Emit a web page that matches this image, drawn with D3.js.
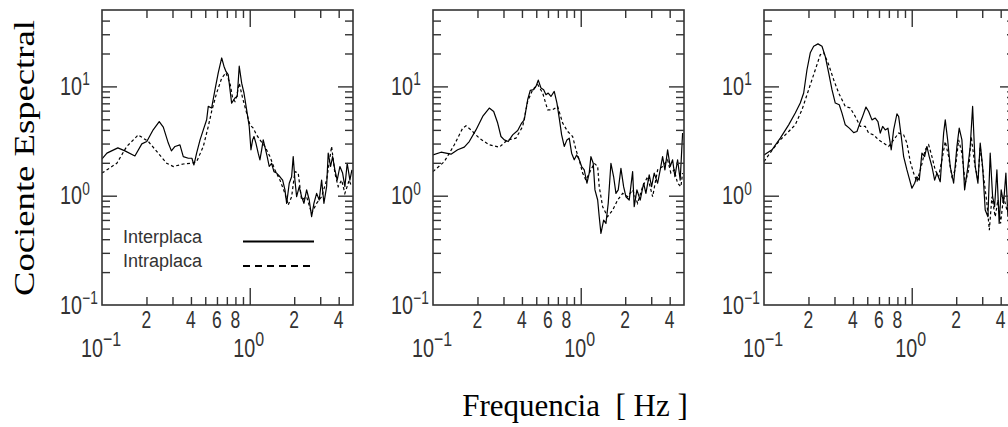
<!DOCTYPE html>
<html><head><meta charset="utf-8">
<script src="https://cdn.jsdelivr.net/npm/d3@7/dist/d3.min.js"></script>
<style>
body{margin:0;background:#fff}
svg{display:block}
.tick-lbl{font-family:'Liberation Sans',Arial,sans-serif;fill:#333}
.title{font-family:'Liberation Serif','Times New Roman',serif;fill:#000}
.leg{font-family:'Liberation Sans',Arial,sans-serif;fill:#333}
</style>
</head><body>
<svg id="chart" width="1008" height="427"></svg>
<script>
// ---------------- data (frequency Hz, spectral ratio) ----------------
const p1Interplaca = [[0.100,2.17],[0.108,2.45],[0.128,2.74],[0.143,2.57],[0.167,2.31],[0.186,2.98],[0.201,3.13],[0.222,4.01],[0.244,4.77],[0.260,4.24],[0.281,3.03],[0.295,2.57],[0.312,2.82],[0.337,2.92],[0.355,2.28],[0.384,2.20],[0.406,2.20],[0.419,1.91],[0.437,2.45],[0.461,3.24],[0.485,4.00],[0.511,4.95],[0.524,6.56],[0.552,6.34],[0.582,9.33],[0.612,13.3],[0.646,18.2],[0.669,15.3],[0.690,13.7],[0.715,12.8],[0.754,7.04],[0.794,7.83],[0.823,8.09],[0.849,15.3],[0.882,10.7],[0.914,8.70],[0.953,6.11],[0.992,4.30],[1.019,2.63],[1.046,3.24],[1.068,3.48],[1.101,3.03],[1.141,2.45],[1.172,2.13],[1.204,2.63],[1.234,3.24],[1.281,2.63],[1.313,2.28],[1.355,1.85],[1.406,1.98],[1.458,1.66],[1.520,1.61],[1.601,1.49],[1.670,1.39],[1.731,1.13],[1.778,0.852],[1.851,1.30],[1.921,1.49],[1.969,2.28],[2.022,1.39],[2.077,0.979],[2.163,1.21],[2.244,0.98],[2.327,0.852],[2.427,1.13],[2.527,0.913],[2.623,0.642],[2.719,0.852],[2.836,1.05],[2.953,0.913],[3.066,1.39],[3.177,0.852],[3.314,1.21],[3.397,2.45],[3.527,1.85],[3.638,2.28],[3.771,1.72],[3.908,1.39],[4.076,1.85],[4.252,1.61],[4.407,1.21],[4.568,1.98],[4.764,1.39],[4.915,1.72]];
const p1Intraplaca = [[0.100,1.61],[0.126,1.98],[0.147,2.82],[0.176,3.60],[0.206,3.13],[0.240,2.45],[0.274,1.98],[0.304,1.85],[0.355,1.95],[0.405,1.98],[0.437,2.05],[0.485,2.82],[0.524,4.30],[0.552,5.90],[0.597,8.70],[0.646,11.9],[0.690,13.3],[0.735,10.7],[0.766,7.83],[0.794,7.28],[0.815,8.09],[0.849,10.7],[0.895,7.83],[0.953,5.70],[1.003,4.45],[1.056,4.15],[1.113,3.60],[1.172,3.24],[1.267,2.82],[1.370,2.28],[1.481,1.72],[1.601,1.39],[1.731,1.05],[1.822,0.822],[1.921,0.979],[2.022,1.66],[2.129,1.61],[2.244,0.913],[2.427,0.979],[2.623,0.69],[2.836,0.852],[3.066,0.979],[3.314,1.39],[3.582,2.82],[3.771,1.61],[3.970,1.21],[4.186,1.39],[4.407,1.05],[4.712,1.39],[4.890,1.21]];
const p2Interplaca = [[0.100,2.36],[0.1133,2.50],[0.1324,2.40],[0.1469,2.63],[0.1628,2.78],[0.1760,3.13],[0.1954,4.00],[0.2169,5.31],[0.2404,6.34],[0.2575,5.90],[0.2740,4.62],[0.2885,3.48],[0.3037,3.24],[0.3232,3.13],[0.3462,3.60],[0.3743,3.95],[0.3982,4.62],[0.4146,4.94],[0.4372,7.55],[0.4553,9.19],[0.4801,9.33],[0.4977,10.0],[0.5159,11.4],[0.5380,9.67],[0.5610,9.33],[0.5815,8.39],[0.6026,8.70],[0.6286,8.09],[0.6617,9.00],[0.6902,7.04],[0.7153,5.13],[0.7426,3.60],[0.7733,2.82],[0.8064,3.24],[0.8359,3.36],[0.8677,2.45],[0.9036,2.13],[0.9382,2.36],[0.9770,2.13],[1.014,1.85],[1.056,1.72],[1.101,1.30],[1.141,1.61],[1.172,2.28],[1.215,1.98],[1.248,1.13],[1.302,0.913],[1.334,0.642],[1.370,0.452],[1.429,0.598],[1.481,0.558],[1.535,0.852],[1.601,1.98],[1.670,1.49],[1.731,1.05],[1.794,1.13],[1.871,1.78],[1.951,1.21],[2.022,0.979],[2.129,0.913],[2.245,1.66],[2.301,0.793],[2.400,1.13],[2.527,0.913],[2.665,1.30],[2.761,1.05],[2.907,1.55],[3.018,1.21],[3.143,1.61],[3.314,1.30],[3.451,1.72],[3.582,2.28],[3.713,1.72],[3.873,2.63],[4.031,1.85],[4.186,2.13],[4.338,1.49],[4.525,2.13],[4.712,1.39],[4.892,3.74]];
const p2Intraplaca = [[0.100,1.66],[0.1192,2.05],[0.1394,2.92],[0.1588,4.15],[0.1672,4.36],[0.1808,4.00],[0.2057,3.36],[0.2404,2.92],[0.2809,2.78],[0.3202,3.24],[0.3644,3.36],[0.4046,4.30],[0.4372,7.28],[0.4728,9.33],[0.5110,10.4],[0.5524,8.70],[0.5970,6.11],[0.6455,6.11],[0.6980,6.56],[0.7543,4.62],[0.8154,3.87],[0.8815,3.48],[0.9279,2.63],[0.9770,2.13],[1.030,1.61],[1.084,1.39],[1.172,1.72],[1.234,1.98],[1.302,1.85],[1.334,1.21],[1.407,0.793],[1.520,0.642],[1.644,0.739],[1.778,0.913],[1.921,1.05],[2.077,0.979],[2.245,1.13],[2.427,0.852],[2.623,1.21],[2.836,1.49],[3.066,0.979],[3.314,1.72],[3.582,1.85],[3.873,2.13],[4.076,1.61],[4.292,1.72],[4.525,1.30],[4.764,1.21],[4.892,1.61]];
const p3Interplaca = [[0.100,2.36],[0.1133,2.63],[0.1289,3.36],[0.1469,4.45],[0.1628,5.70],[0.1760,7.04],[0.1856,8.70],[0.1954,14.2],[0.2057,20.3],[0.2169,23.3],[0.2319,24.5],[0.2469,23.3],[0.2598,18.8],[0.2740,13.3],[0.2885,9.33],[0.3037,7.04],[0.3232,6.79],[0.3372,5.70],[0.3549,4.45],[0.3778,4.15],[0.4046,3.78],[0.4258,3.87],[0.4414,4.45],[0.4605,5.13],[0.4900,6.47],[0.5110,5.90],[0.5380,4.94],[0.5664,5.13],[0.5906,4.77],[0.6123,3.74],[0.6355,4.30],[0.6617,4.00],[0.6902,4.15],[0.7265,2.63],[0.7543,4.00],[0.7941,5.62],[0.8154,5.31],[0.8492,3.48],[0.8815,2.28],[0.9279,1.72],[0.9618,1.44],[1.003,1.17],[1.046,1.30],[1.084,1.49],[1.124,1.39],[1.172,2.45],[1.222,2.28],[1.267,2.82],[1.313,2.28],[1.370,1.85],[1.429,1.39],[1.481,1.61],[1.559,1.34],[1.644,3.74],[1.686,4.94],[1.750,3.24],[1.822,1.85],[1.921,1.30],[2.022,2.82],[2.096,4.15],[2.186,3.24],[2.280,1.13],[2.400,1.85],[2.488,2.82],[2.583,6.56],[2.690,1.85],[2.805,1.30],[2.907,3.03],[3.018,1.85],[3.143,0.739],[3.278,0.642],[3.397,2.45],[3.527,0.979],[3.638,0.793],[3.771,1.72],[3.908,0.558],[4.031,1.13],[4.186,0.852],[4.338,1.61],[4.476,0.642]];
const p3Intraplaca = [[0.100,2.05],[0.1076,2.36],[0.1257,3.13],[0.1469,3.87],[0.1628,4.45],[0.1808,6.11],[0.2006,9.33],[0.2224,14.2],[0.2404,19.5],[0.2535,20.3],[0.2740,15.8],[0.2963,11.5],[0.3202,8.70],[0.3549,6.56],[0.3836,6.34],[0.4146,5.31],[0.4483,4.30],[0.4848,4.30],[0.5110,3.74],[0.5524,3.60],[0.5970,3.24],[0.6455,3.03],[0.6980,2.82],[0.7543,3.24],[0.8154,3.74],[0.8815,3.60],[0.9279,3.03],[0.9770,2.05],[1.030,1.61],[1.084,1.34],[1.160,1.85],[1.234,2.63],[1.302,2.92],[1.370,2.28],[1.442,1.72],[1.520,1.49],[1.601,2.13],[1.686,3.13],[1.778,2.28],[1.871,1.49],[1.969,1.72],[2.077,3.24],[2.186,2.45],[2.301,1.30],[2.427,1.72],[2.527,3.48],[2.665,1.98],[2.805,1.39],[2.907,2.82],[3.066,1.49],[3.227,0.852],[3.352,0.484],[3.488,0.979],[3.675,0.642],[3.830,0.913],[3.990,0.558],[4.186,0.979],[4.407,0.739]];

const seriesNames = ["Interplaca", "Intraplaca"];
const xDomain = [0.1, 5];
const yDomain = [0.1, 50];
const xMinorTicks = [0.2,0.3,0.4,0.5,0.6,0.7,0.8,0.9,2,3,4];
const xMajorTicks = [1];
const yMinorTicks = [0.2,0.3,0.4,0.5,0.6,0.7,0.8,0.9,2,3,4,5,6,7,8,9,20,30,40];
const yMajorTicks = [1,10];
const xDigitTicks = [0.2,0.4,0.6,0.8,2,4];
const xDigitLabels = ["2","4","6","8","2","4"];
const xDecadeTicks = [0.1,1];
const xDecadeExps = ["\u22121","0"];
const yDecadeTicks = [0.1,1,10];
const yDecadeExps = ["\u22121","0","1"];
const yTitle = "Cociente Espectral";
const xTitle = "Frequencia\u00a0\u00a0[ Hz ]";

const panels = [
  {solid:p1Interplaca, dashed:p1Intraplaca, left:102, legend:true},
  {solid:p2Interplaca, dashed:p2Intraplaca, left:433, legend:false},
  {solid:p3Interplaca, dashed:p3Intraplaca, left:764, legend:false}
];

const svg = d3.select("#chart");
const topM = 10, W = 251, H = 295;
const axisColor = "#333";
const SX = 0.76; // horizontal condensing of tick-label glyphs

panels.forEach((p, i) => {
  const x = d3.scaleLog().domain(xDomain).range([0, W]);
  const y = d3.scaleLog().domain(yDomain).range([H, 0]);
  const g = svg.append("g").attr("transform", `translate(${p.left},${topM})`);

  g.append("clipPath").attr("id", "clip" + i)
    .append("rect").attr("width", W).attr("height", H);

  const line = d3.line().x(d => x(d[0])).y(d => y(d[1]));
  const plot = g.append("g").attr("clip-path", `url(#clip${i})`);
  plot.append("path").datum(p.dashed).attr("d", line)
    .attr("fill", "none").attr("stroke", "#000").attr("stroke-width", 1.2)
    .attr("stroke-dasharray", "3,2.5");
  plot.append("path").datum(p.solid).attr("d", line)
    .attr("fill", "none").attr("stroke", "#000").attr("stroke-width", 1.2)
    .attr("stroke-linejoin", "round");

  const tickAxis = (axisGen, vals, size, tr) => {
    const a = g.append("g").attr("transform", tr).attr("color", axisColor)
      .call(axisGen.tickValues(vals).tickSize(size).tickFormat(""));
    a.select(".domain").remove();
    a.selectAll(".tick line").attr("stroke-width", 1.4);
  };
  tickAxis(d3.axisBottom(x), xMinorTicks, -8, `translate(0,${H})`);
  tickAxis(d3.axisBottom(x), xMajorTicks, -17, `translate(0,${H})`);
  tickAxis(d3.axisTop(x), xMinorTicks, -8, `translate(0,0)`);
  tickAxis(d3.axisTop(x), xMajorTicks, -17, `translate(0,0)`);
  tickAxis(d3.axisLeft(y), yMinorTicks, -8, `translate(0,0)`);
  tickAxis(d3.axisLeft(y), yMajorTicks, -15, `translate(0,0)`);
  tickAxis(d3.axisRight(y), yMinorTicks, -8, `translate(${W},0)`);
  tickAxis(d3.axisRight(y), yMajorTicks, -15, `translate(${W},0)`);

  g.append("rect").attr("width", W).attr("height", H)
    .attr("fill", "none").attr("stroke", axisColor).attr("stroke-width", 1.6);

  // x digit labels
  g.selectAll(".xd").data(xDigitTicks).enter().append("text")
    .attr("class", "tick-lbl")
    .attr("transform", d => `translate(${x(d)},${H + 23}) scale(${SX},1)`)
    .attr("text-anchor", "middle").attr("font-size", 23)
    .text((d, k) => xDigitLabels[k]);

  // x decade labels
  xDecadeTicks.forEach((v, k) => {
    const t = g.append("text").attr("class", "tick-lbl")
      .attr("transform", `translate(${x(v) - 1},${H + 52}) scale(${SX},1)`)
      .attr("text-anchor", "middle").attr("font-size", 26);
    t.append("tspan").text("10");
    t.append("tspan").attr("dy", -11).attr("font-size", 21).text(xDecadeExps[k]);
  });

  // y decade labels
  yDecadeTicks.forEach((v, k) => {
    const t = g.append("text").attr("class", "tick-lbl")
      .attr("transform", `translate(-42,${y(v) + 8.5}) scale(${SX},1)`)
      .attr("text-anchor", "start").attr("font-size", 26);
    t.append("tspan").text("10");
    t.append("tspan").attr("dx", 0.5).attr("dy", -9.5).attr("font-size", 18).text(yDecadeExps[k]);
  });

  if (p.legend) {
    const lg = [{name: seriesNames[0], dash: null, yy: 243, ly: 241.5},
                {name: seriesNames[1], dash: "7,5", yy: 266.5, ly: 266}];
    lg.forEach(L => {
      g.append("text").attr("class", "leg").attr("x", 21).attr("y", L.yy - topM)
        .attr("font-size", 18).text(L.name);
      g.append("line").attr("x1", 141).attr("x2", 212)
        .attr("y1", L.ly - topM).attr("y2", L.ly - topM)
        .attr("stroke", "#000").attr("stroke-width", 1.8)
        .attr("stroke-dasharray", L.dash);
    });
  }
});

svg.append("text").attr("class", "title")
  .attr("transform", "translate(34,158) rotate(-90)")
  .attr("text-anchor", "middle").attr("font-size", 30)
  .attr("textLength", 276).attr("lengthAdjust", "spacingAndGlyphs")
  .text(yTitle);
svg.append("text").attr("class", "title")
  .attr("x", 575).attr("y", 416).attr("text-anchor", "middle")
  .attr("font-size", 31).text(xTitle);
</script>
</body></html>
